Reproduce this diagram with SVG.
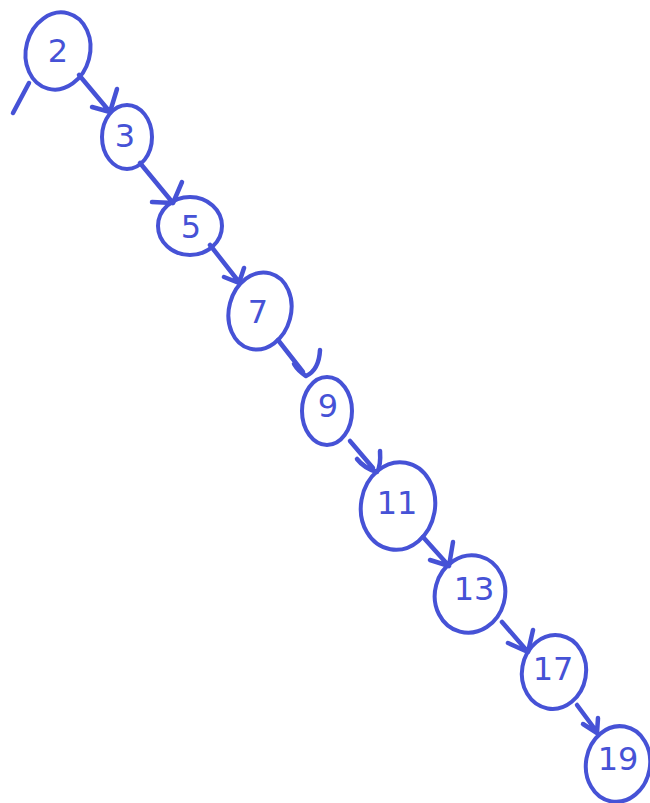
<svg xmlns="http://www.w3.org/2000/svg" width="650" height="803" viewBox="0 0 650 803">
<style>
.n{fill:none;stroke:#4652d6;stroke-width:4}
.t{font-family:"DejaVu Sans",sans-serif;font-size:32px;fill:#4652d6;text-anchor:middle;dominant-baseline:central}
.c path{fill:none;stroke:#4652d6;stroke-width:4.5;stroke-linecap:round;stroke-linejoin:round}
</style>
<rect width="650" height="803" fill="#ffffff"/>
<g class="c" id="connectors">
<path d="M13,113 L29,83"/>
<path d="M79,75 L110,112 M117,89 L110,112 L92,107"/>
<path d="M140,163 L173,203 M182,182 L173,203 L152,202"/>
<path d="M210,245 L239,282 M244,268 L239,283 L224,277"/>
<path d="M278,340 L303,372 M320,350 Q319,370 306,376 Q298,371 294,364"/>
<path d="M350,441 L373,468 M380,451 Q381,466 377,472 Q364,468 357,459"/>
<path d="M423,537 L449,566 M453,542 L449,566 L430,560"/>
<path d="M502,622 L528,652 M533,630 L528,652 L508,643"/>
<path d="M577,705 L597,732 M598,718 L597,733 L583,724"/>
</g>
<g id="node-2"><ellipse class="n" cx="58" cy="51" rx="32" ry="39" transform="rotate(15 58 51)"/><text class="t" x="58" y="51">2</text></g>
<g id="node-3"><ellipse class="n" cx="127" cy="137" rx="25" ry="32"/><text class="t" x="125" y="136">3</text></g>
<g id="node-5"><ellipse class="n" cx="190" cy="226" rx="32" ry="29"/><text class="t" x="191" y="227">5</text></g>
<g id="node-7"><ellipse class="n" cx="260" cy="311" rx="31" ry="39" transform="rotate(15 260 311)"/><text class="t" x="258" y="312">7</text></g>
<g id="node-9"><ellipse class="n" cx="327" cy="411" rx="25" ry="34"/><text class="t" x="328" y="406">9</text></g>
<g id="node-11"><ellipse class="n" cx="398" cy="506" rx="37" ry="44" transform="rotate(10 398 506)"/><text class="t" x="397" y="503">11</text></g>
<g id="node-13"><ellipse class="n" cx="470" cy="594" rx="35" ry="39" transform="rotate(15 470 594)"/><text class="t" x="474" y="589">13</text></g>
<g id="node-17"><ellipse class="n" cx="554" cy="672" rx="32" ry="37" transform="rotate(10 554 672)"/><text class="t" x="553" y="669">17</text></g>
<g id="node-19"><ellipse class="n" cx="618" cy="764" rx="32" ry="38" transform="rotate(10 618 764)"/><text class="t" x="618" y="759">19</text></g>
</svg>
